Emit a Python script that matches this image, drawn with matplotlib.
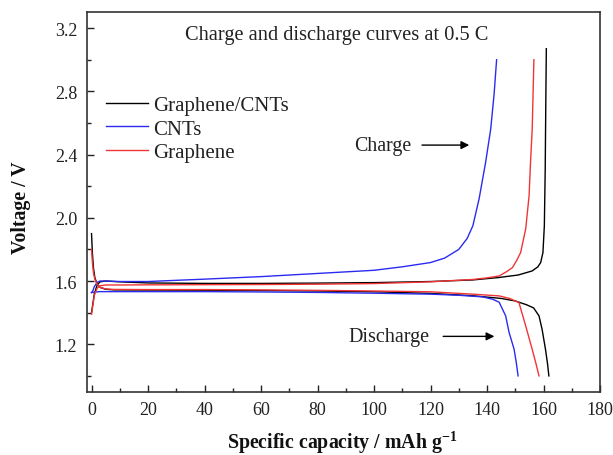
import matplotlib
matplotlib.use("Agg")
import matplotlib.pyplot as plt
from matplotlib.ticker import MultipleLocator

plt.rcParams['font.family'] = ['Liberation Serif', 'DejaVu Serif']
plt.rcParams['mathtext.fontset'] = 'custom'
plt.rcParams['mathtext.rm'] = 'Liberation Serif'
plt.rcParams['mathtext.bf'] = 'Liberation Serif:bold'

# ---- data ----
series_names = ["Graphene/CNTs", "CNTs", "Graphene"]
series_colors = ["#000000", "#2b2bf0", "#f03535"]

gc_charge_x = [0, 0.5, 1, 2, 3, 5, 10, 20, 40, 60, 80, 100, 120, 135, 144, 151, 156, 158, 159, 159.8, 160.3, 160.6, 160.8, 161.0]
gc_charge_y = [1.40, 1.46, 1.52, 1.575, 1.595, 1.60, 1.595, 1.588, 1.585, 1.585, 1.587, 1.59, 1.597, 1.607, 1.622, 1.638, 1.664, 1.69, 1.717, 1.78, 1.95, 2.3, 2.7, 3.07]
gc_dis_x = [0, 0.3, 0.7, 1.2, 2, 3, 5, 8, 20, 40, 60, 80, 100, 120, 135, 145, 150, 154, 156.5, 158.4, 159.5, 160.7, 161.4, 161.9]
gc_dis_y = [1.90, 1.78, 1.68, 1.62, 1.58, 1.56, 1.548, 1.544, 1.543, 1.542, 1.54, 1.537, 1.532, 1.522, 1.507, 1.49, 1.474, 1.45, 1.43, 1.38, 1.295, 1.168, 1.08, 1.0]

cnt_charge_x = [0, 0.5, 1, 2, 3, 5, 10, 20, 40, 60, 80, 100, 110, 120, 125, 130, 133, 135, 137.2, 139.5, 141.3, 142.5, 143.4]
cnt_charge_y = [1.527, 1.54, 1.565, 1.592, 1.60, 1.60, 1.597, 1.597, 1.612, 1.628, 1.648, 1.668, 1.69, 1.717, 1.745, 1.80, 1.87, 1.95, 2.12, 2.35, 2.56, 2.78, 3.0]
cnt_dis_x = [0, 1, 3, 10, 20, 40, 60, 80, 100, 120, 130, 138.4, 142, 144.3, 146.6, 147.8, 149.6, 150.4, 151.0]
cnt_dis_y = [1.527, 1.53, 1.533, 1.533, 1.533, 1.533, 1.531, 1.528, 1.523, 1.517, 1.51, 1.5, 1.485, 1.466, 1.38, 1.276, 1.168, 1.08, 1.0]

g_charge_x = [0, 0.5, 1, 2, 3, 5, 10, 20, 40, 60, 80, 100, 120, 135, 140, 144.3, 147, 149, 150.5, 151.9, 153.7, 154.9, 155.4, 156.0, 156.6]
g_charge_y = [1.39, 1.45, 1.51, 1.555, 1.57, 1.575, 1.575, 1.576, 1.577, 1.578, 1.58, 1.584, 1.595, 1.61, 1.62, 1.632, 1.66, 1.685, 1.73, 1.78, 1.93, 2.14, 2.35, 2.56, 3.0]
g_dis_x = [0, 0.3, 0.7, 1.2, 2, 3, 5, 8, 20, 40, 60, 80, 100, 120, 135, 144.3, 148, 151.3, 153.7, 156.0, 157.3, 158.4]
g_dis_y = [1.80, 1.72, 1.65, 1.61, 1.58, 1.56, 1.55, 1.547, 1.546, 1.546, 1.544, 1.541, 1.537, 1.532, 1.517, 1.506, 1.49, 1.464, 1.316, 1.168, 1.08, 1.0]

charge_x = [gc_charge_x, cnt_charge_x, g_charge_x]
charge_y = [gc_charge_y, cnt_charge_y, g_charge_y]
dis_x = [gc_dis_x, cnt_dis_x, g_dis_x]
dis_y = [gc_dis_y, cnt_dis_y, g_dis_y]

x_ticks = [0, 20, 40, 60, 80, 100, 120, 140, 160, 180]
y_ticks = [1.2, 1.6, 2.0, 2.4, 2.8, 3.2]

fig = plt.figure(figsize=(6.13, 4.56), dpi=100)
ax = fig.add_axes([87 / 613, 1 - 392.7 / 456, (600 - 87) / 613, (392.7 - 13.3) / 456])

for i in range(3):
    ax.plot(charge_x[i], charge_y[i], color=series_colors[i], lw=1.0, label=series_names[i])
    ax.plot(dis_x[i], dis_y[i], color=series_colors[i], lw=1.0)

ax.set_xlim(-1.6, 180)
ax.set_ylim(0.9, 3.3)
ax.set_xticks(x_ticks)
ax.set_yticks(y_ticks)
ax.xaxis.set_minor_locator(MultipleLocator(10))
ax.yaxis.set_minor_locator(MultipleLocator(0.2))
ax.tick_params(which='both', direction='in', top=False, right=False, labelsize=13, colors='#222222')
ax.tick_params(which='major', length=5, width=1.0, pad=7)
ax.tick_params(which='minor', length=3, width=1.0)
for s in ax.spines.values():
    s.set_linewidth(1.2)
    s.set_color('#333333')

fig.text(342.5 / 613, 1 - 449 / 456, r"Specific capacity / mAh g$^{\mathbf{-1}}$", fontsize=14.3,
         fontweight='bold', ha='center', va='baseline', color='#111111')
fig.text(21 / 613, 1 - 207.5 / 456, "Voltage / V", fontsize=14.3, fontweight='bold',
         rotation=90, ha='center', va='center', color='#111111')

ax.text(86.8, 3.157, "Charge and discharge curves at 0.5 C", fontsize=14.7, ha='center', va='center', color='#222222')

ax.text(92.8, 2.46, "Charge", fontsize=14.3, ha='left', va='center', color='#222222')
ax.annotate("", xy=(134.7, 2.46), xytext=(116, 2.46),
            arrowprops=dict(arrowstyle='-|>', color='black', lw=1.0, mutation_scale=12))
ax.text(91, 1.25, "Discharge", fontsize=14.5, ha='left', va='center', color='#222222')
ax.annotate("", xy=(143.6, 1.25), xytext=(123.5, 1.25),
            arrowprops=dict(arrowstyle='-|>', color='black', lw=1.0, mutation_scale=12))

leg = ax.legend(loc='upper left', bbox_to_anchor=(0.021, 0.803), frameon=False, fontsize=15,
                handlelength=2.0, handletextpad=0.25, labelspacing=0.2, borderaxespad=0)
for t in leg.get_texts():
    t.set_color('#222222')

fig.savefig("out.png", dpi=100)
